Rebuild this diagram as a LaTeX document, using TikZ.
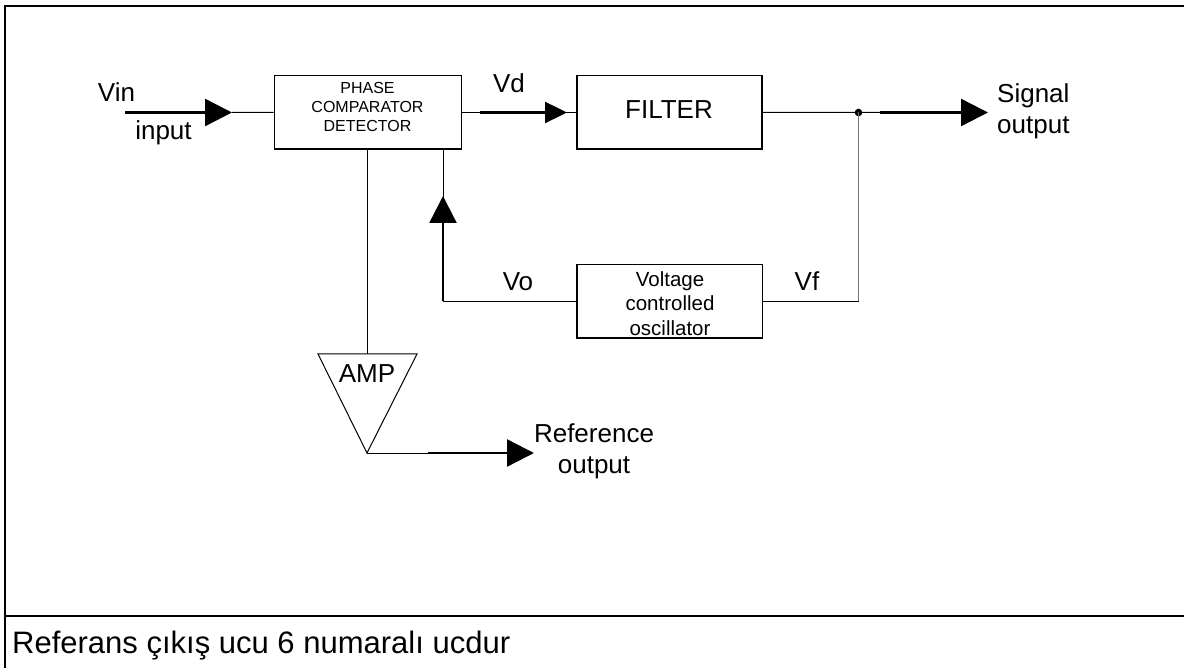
\documentclass[tikz,border=0pt]{standalone}
\usepackage{fontspec}
\setmainfont{Liberation Sans}
\usetikzlibrary{arrows.meta}
\begin{document}
\begin{tikzpicture}[x=1pt,y=-1pt,
  thinline/.style={line width=1pt},
  thickline/.style={line width=2.4pt},
  bigtip/.style={-{Triangle[length=27pt,width=27pt]}},
  smalltip/.style={-{Triangle[length=22pt,width=21pt]}},
  blockbox/.style={draw,line width=1.3pt,inner sep=0pt},
  lbl/.style={font=\fontsize{26}{30.5}\selectfont, inner sep=0pt},
  framel/.style={line width=2.2pt},
]
\useasboundingbox (0,0) rectangle (1184,668);
% frame
\draw[framel] (1184,6) -- (5,6) -- (5,668);
\draw[framel] (5,616) -- (1184,616);
\node[font=\fontsize{31}{35}\selectfont, inner sep=0pt, anchor=base west] (note) at (12,653) {Referans çıkış ucu 6 numaralı ucdur};

% blocks
\node[blockbox, minimum width=187pt, minimum height=73.5pt] (pcd) at (367.8,112.4) {};
\node[font=\fontsize{16}{19}\selectfont, align=center, inner sep=0pt] (pcdtext) at (367.5,106.7) {PHASE\\COMPARATOR\\DETECTOR};
\node[blockbox, minimum width=185pt, minimum height=73.5pt] (filter) at (669.6,112.4) {};
\node[lbl, anchor=base] (filtertext) at (669,119) {FILTER};
\node[blockbox, minimum width=185.7pt, minimum height=73.3pt] (vco) at (669.8,301.3) {};
\node[font=\fontsize{20.5}{24.5}\selectfont, align=center, inner sep=0pt] (vcotext) at (670,303.3) {Voltage\\controlled\\oscillator};

% amp
\coordinate (ampL) at (318,354);
\coordinate (ampR) at (417,354);
\coordinate (ampB) at (367,453);
\coordinate (ampT) at (367,354);
\draw[thinline, line join=miter] (ampL) -- (ampR) -- (ampB) -- cycle;
\node[lbl, anchor=base] (amptext) at (367,382) {AMP};

% input
\coordinate (vinS) at (125,112.5);
\coordinate (vinT) at (232,112.5);
\draw[thinline] (vinT) -- (pcd.west);
\draw[thickline, bigtip] (vinS) -- (vinT);
\node[lbl, anchor=base] (vin) at (116.5,102) {Vin};
\node[lbl, anchor=base] (input) at (163.5,140) {input};

% pcd -> filter
\coordinate (vdS) at (480,112.5);
\coordinate (vdT) at (567,112.5);
\draw[thinline] (pcd.east) -- (filter.west);
\draw[thickline, smalltip] (vdS) -- (vdT);
\node[lbl, anchor=base] (vd) at (509,93) {Vd};

% filter -> output
\coordinate (jn) at (858.5,112.5);
\coordinate (sigS) at (880,112.5);
\coordinate (sigT) at (988,112.5);
\draw[thinline] (filter.east) -- (jn) -- (sigS);
\draw[thickline, bigtip] (sigS) -- (sigT);
\fill (jn) circle (3.8);
\node[lbl, align=left, anchor=west] (sig) at (997,111.3) {Signal\\output};

% feedback
\coordinate (jd) at (858.5,301.3);
\draw[thinline, black!55] (jn) -- (jd);
\draw[thinline] (jd) -- (vco.east);
\node[lbl, anchor=base] (vf) at (807,291) {Vf};
\coordinate (fbc) at (443,301.3);
\coordinate (fbT) at (443,196);
\draw[thinline] (vco.west) -- (fbc) -- (fbc |- pcd.south);
\draw[thickline, bigtip] (fbc) -- (fbT);
\node[lbl, anchor=base] (vo) at (518,291) {Vo};

% pcd -> amp -> reference
\draw[thinline] (ampT |- pcd.south) -- (ampT);
\coordinate (refS) at (428,453);
\coordinate (refT) at (534,453);
\draw[thinline] (ampB) -- (refS);
\draw[thickline, bigtip] (refS) -- (refT);
\node[lbl, align=center] (ref) at (594,451.3) {Reference\\output};
\end{tikzpicture}
\end{document}
